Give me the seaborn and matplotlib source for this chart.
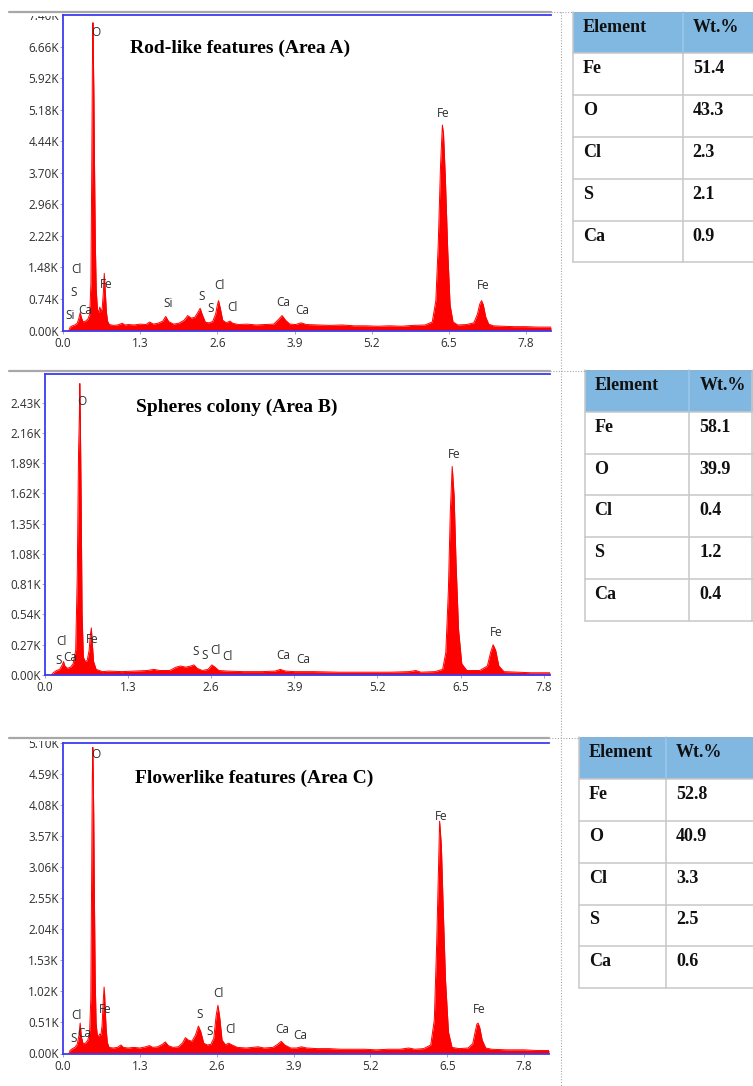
import numpy as np
import pandas as pd
import matplotlib
matplotlib.use("Agg")
import matplotlib.pyplot as plt
import seaborn as sns
from matplotlib.patches import Rectangle
from matplotlib.lines import Line2D

# ---------------- data ----------------
xticks = [0.0, 1.3, 2.6, 3.9, 5.2, 6.5, 7.8]

title_a = "Rod-like features (Area A)"
title_b = "Spheres colony (Area B)"
title_c = "Flowerlike features (Area C)"

yticks_a = [0.00, 0.74, 1.48, 2.22, 2.96, 3.70, 4.44, 5.18, 5.92, 6.66, 7.40]
yticks_b = [0.00, 0.27, 0.54, 0.81, 1.08, 1.35, 1.62, 1.89, 2.16, 2.43]
yticks_c = [0.00, 0.51, 1.02, 1.53, 2.04, 2.55, 3.06, 3.57, 4.08, 4.59, 5.10]

energy_a = [0.10, 0.12, 0.16, 0.20, 0.24, 0.27, 0.29, 0.31, 0.34, 0.38, 0.42, 0.45, 0.47,
            0.485, 0.495, 0.50, 0.505, 0.51, 0.52, 0.53, 0.545, 0.56, 0.58, 0.60, 0.62,
            0.64, 0.66, 0.68, 0.695, 0.705, 0.715, 0.73, 0.75, 0.78, 0.85, 0.92, 1.00,
            1.04, 1.10, 1.20, 1.30, 1.40, 1.46, 1.52, 1.60, 1.68, 1.73, 1.78, 1.86, 1.95,
            2.04, 2.10, 2.16, 2.22, 2.27, 2.31, 2.35, 2.40, 2.46, 2.52, 2.57, 2.60, 2.62,
            2.65, 2.69, 2.75, 2.81, 2.86, 2.95, 3.10, 3.25, 3.40, 3.55, 3.63, 3.69, 3.75,
            3.82, 3.92, 4.01, 4.10, 4.30, 4.50, 4.70, 4.90, 5.10, 5.30, 5.50, 5.70, 5.90,
            6.10, 6.22, 6.28, 6.32, 6.36, 6.39, 6.41, 6.44, 6.48, 6.52, 6.57, 6.65, 6.80,
            6.92, 6.98, 7.02, 7.05, 7.08, 7.12, 7.17, 7.25, 7.40, 7.60, 7.80, 8.00, 8.22]
counts_a = [0.00, 0.08, 0.11, 0.13, 0.17, 0.30, 0.42, 0.30, 0.20, 0.22, 0.27, 0.38, 1.10,
            4.00, 6.20, 6.70, 7.22, 6.60, 5.60, 4.00, 2.00, 0.95, 0.50, 0.42, 0.55,
            0.44, 0.52, 0.90, 1.34, 1.10, 0.85, 0.45, 0.22, 0.14, 0.12, 0.13, 0.17,
            0.13, 0.14, 0.13, 0.15, 0.14, 0.20, 0.15, 0.17, 0.22, 0.33, 0.21, 0.15, 0.17,
            0.24, 0.35, 0.29, 0.31, 0.42, 0.52, 0.36, 0.19, 0.18, 0.21, 0.38, 0.60, 0.70,
            0.52, 0.24, 0.18, 0.22, 0.17, 0.14, 0.15, 0.13, 0.14, 0.15, 0.26, 0.35, 0.24,
            0.15, 0.14, 0.18, 0.14, 0.13, 0.12, 0.13, 0.11, 0.11, 0.10, 0.11, 0.10, 0.12,
            0.13, 0.20, 0.70, 2.00, 3.90, 4.82, 4.60, 3.60, 1.90, 0.60, 0.20, 0.13, 0.14,
            0.18, 0.38, 0.62, 0.70, 0.60, 0.32, 0.15, 0.11, 0.10, 0.09, 0.09, 0.08, 0.08]

energy_b = [0.10, 0.13, 0.18, 0.23, 0.27, 0.29, 0.31, 0.35, 0.40, 0.44, 0.48, 0.505, 0.525,
            0.538, 0.545, 0.552, 0.565, 0.58, 0.60, 0.63, 0.66, 0.69, 0.71, 0.725, 0.74,
            0.76, 0.80, 0.90, 1.00, 1.20, 1.40, 1.60, 1.70, 1.80, 1.95, 2.05, 2.12, 2.20,
            2.28, 2.33, 2.38, 2.46, 2.55, 2.61, 2.66, 2.72, 2.85, 3.10, 3.40, 3.60, 3.68,
            3.76, 3.90, 4.20, 4.60, 5.00, 5.40, 5.70, 5.80, 5.88, 6.10, 6.22, 6.27, 6.31,
            6.34, 6.37, 6.40, 6.43, 6.47, 6.52, 6.60, 6.80, 6.92, 6.97, 7.01, 7.05, 7.10,
            7.18, 7.40, 7.60, 7.90]
counts_b = [0.00, 0.02, 0.04, 0.05, 0.09, 0.12, 0.08, 0.06, 0.07, 0.10, 0.22, 0.90, 2.00,
            2.32, 2.60, 2.32, 1.60, 0.55, 0.16, 0.12, 0.13, 0.22, 0.36, 0.42, 0.28,
            0.12, 0.05, 0.03, 0.035, 0.03, 0.035, 0.04, 0.05, 0.04, 0.04, 0.07, 0.08, 0.07,
            0.08, 0.09, 0.06, 0.04, 0.05, 0.09, 0.07, 0.04, 0.035, 0.03, 0.03, 0.035, 0.05,
            0.035, 0.03, 0.03, 0.025, 0.025, 0.025, 0.03, 0.04, 0.025, 0.03, 0.05, 0.20, 0.75,
            1.45, 1.86, 1.60, 1.00, 0.40, 0.10, 0.04, 0.04, 0.08, 0.20, 0.27, 0.22, 0.08,
            0.03, 0.025, 0.02, 0.02]

energy_c = [0.10, 0.12, 0.16, 0.20, 0.24, 0.27, 0.29, 0.31, 0.34, 0.38, 0.42, 0.45, 0.47,
            0.485, 0.495, 0.50, 0.505, 0.51, 0.52, 0.53, 0.545, 0.56, 0.58, 0.60, 0.62,
            0.64, 0.66, 0.68, 0.695, 0.705, 0.715, 0.73, 0.75, 0.78, 0.85, 0.92, 0.98,
            1.02, 1.10, 1.20, 1.30, 1.40, 1.46, 1.52, 1.60, 1.68, 1.73, 1.78, 1.86, 1.95,
            2.02, 2.07, 2.12, 2.18, 2.24, 2.29, 2.33, 2.38, 2.44, 2.50, 2.55, 2.59, 2.62,
            2.65, 2.69, 2.75, 2.80, 2.86, 2.95, 3.10, 3.30, 3.40, 3.55, 3.63, 3.69, 3.75,
            3.85, 3.95, 4.03, 4.12, 4.30, 4.50, 4.70, 4.90, 5.10, 5.30, 5.50, 5.70, 5.85,
            5.95, 6.10, 6.22, 6.28, 6.32, 6.35, 6.37, 6.40, 6.43, 6.47, 6.52, 6.58, 6.70,
            6.85, 6.93, 6.97, 7.00, 7.02, 7.05, 7.09, 7.15, 7.25, 7.50, 7.80, 8.00, 8.22]
counts_c = [0.00, 0.05, 0.08, 0.10, 0.15, 0.30, 0.50, 0.28, 0.16, 0.17, 0.22, 0.35, 0.90,
            3.00, 4.50, 4.78, 5.02, 4.70, 3.90, 2.70, 1.20, 0.50, 0.30, 0.28, 0.32,
            0.30, 0.45, 0.85, 1.09, 0.95, 0.70, 0.40, 0.18, 0.10, 0.09, 0.10, 0.14,
            0.10, 0.09, 0.10, 0.09, 0.11, 0.13, 0.10, 0.11, 0.15, 0.19, 0.13, 0.10, 0.11,
            0.17, 0.26, 0.22, 0.20, 0.30, 0.45, 0.36, 0.17, 0.14, 0.15, 0.25, 0.62, 0.79,
            0.60, 0.22, 0.14, 0.17, 0.14, 0.10, 0.09, 0.11, 0.09, 0.10, 0.15, 0.20, 0.14,
            0.09, 0.09, 0.11, 0.09, 0.08, 0.08, 0.07, 0.07, 0.07, 0.06, 0.07, 0.07, 0.09,
            0.07, 0.08, 0.14, 0.55, 1.80, 3.00, 3.81, 3.40, 2.40, 1.20, 0.35, 0.10, 0.08,
            0.09, 0.16, 0.35, 0.48, 0.50, 0.42, 0.22, 0.09, 0.07, 0.06, 0.06, 0.05, 0.05]

# peak labels: (element, energy keV, counts K)
labels_a = [("O", 0.556, 6.98), ("Cl", 0.219, 1.44), ("S", 0.185, 0.90), ("Si", 0.123, 0.36),
            ("Ca", 0.370, 0.47), ("Fe", 0.724, 1.07), ("Si", 1.773, 0.64), ("S", 2.335, 0.80),
            ("S", 2.492, 0.51), ("Cl", 2.643, 1.05), ("Cl", 2.850, 0.55), ("Ca", 3.709, 0.66),
            ("Ca", 4.029, 0.46), ("Fe", 6.41, 5.10), ("Fe", 7.07, 1.05)]
labels_b = [("O", 0.574, 2.44), ("Cl", 0.250, 0.303), ("S", 0.208, 0.125), ("Ca", 0.391, 0.158),
            ("Fe", 0.741, 0.318), ("S", 2.358, 0.208), ("S", 2.504, 0.178), ("Cl", 2.660, 0.223),
            ("Cl", 2.859, 0.169), ("Ca", 3.720, 0.178), ("Ca", 4.033, 0.134), ("Fe", 6.405, 1.971),
            ("Fe", 7.058, 0.377)]
labels_c = [("O", 0.553, 4.91), ("Cl", 0.220, 0.617), ("S", 0.186, 0.25), ("Ca", 0.360, 0.32),
            ("Fe", 0.716, 0.727), ("S", 2.318, 0.633), ("S", 2.475, 0.359), ("Cl", 2.628, 0.99),
            ("Cl", 2.826, 0.387), ("Ca", 3.70, 0.387), ("Ca", 4.02, 0.30), ("Fe", 6.40, 3.89),
            ("Fe", 7.04, 0.727)]

table_header = ["Element", "Wt.%"]
elements = ["Fe", "O", "Cl", "S", "Ca"]
wt_a = ["51.4", "43.3", "2.3", "2.1", "0.9"]
wt_b = ["58.1", "39.9", "0.4", "1.2", "0.4"]
wt_c = ["52.8", "40.9", "3.3", "2.5", "0.6"]

# ---------------- style ----------------
sns.set_theme(style="white")
plt.rcParams["font.family"] = ["Open Sans", "DejaVu Sans"]

W, H = 753, 1086
fig = plt.figure(figsize=(W / 100, H / 100), dpi=100)
fig.patch.set_facecolor("white")


def add_px_axes(left, top, right, bottom):
    return fig.add_axes([left / W, 1 - bottom / H, (right - left) / W, (bottom - top) / H])


SPINE = "#3c3cf2"
RED = "#ff0000"
TXT = "#2e2e2e"

panels = [
    dict(e=energy_a, c=counts_a, lab=labels_a, yt=yticks_a, title=title_a,
         box=(63, 15, 551, 330.5), xmax=8.22, ymax=7.40, txy=(240, 52.7)),
    dict(e=energy_b, c=counts_b, lab=labels_b, yt=yticks_b, title=title_b,
         box=(45, 374, 550, 675), xmax=7.90, ymax=2.685, txy=(236.7, 411.7)),
    dict(e=energy_c, c=counts_c, lab=labels_c, yt=yticks_c, title=title_c,
         box=(63, 742.5, 549, 1053.5), xmax=8.22, ymax=5.10, txy=(254.5, 783.3)),
]

for p in panels:
    ax = add_px_axes(*p["box"])
    df = pd.DataFrame({"energy": p["e"], "counts": p["c"]})
    ax.fill_between(df["energy"], 0, df["counts"], color=RED, linewidth=0, zorder=2)
    sns.lineplot(data=df, x="energy", y="counts", ax=ax, color=RED, linewidth=0.7,
                 sort=False, estimator=None, zorder=3)
    ax.set_xlim(0, p["xmax"])
    ax.set_ylim(0, p["ymax"])
    ax.set_xticks(xticks)
    ax.set_xticklabels([f"{v:.1f}" for v in xticks])
    ax.set_yticks(p["yt"])
    ax.set_yticklabels([f"{v:.2f}K" for v in p["yt"]])
    ax.set_xlabel("")
    ax.set_ylabel("")
    ax.grid(False)
    for s in ["left", "top", "bottom"]:
        ax.spines[s].set_color(SPINE)
        ax.spines[s].set_linewidth(1.3)
        ax.spines[s].set_visible(True)
    ax.spines["right"].set_visible(False)
    ax.tick_params(axis="both", which="major", bottom=True, left=True, length=2,
                   width=0.6, color="#999999", labelsize=8.5, labelcolor=TXT)
    ax.tick_params(axis="y", pad=1)
    ax.tick_params(axis="x", pad=2.5)
    for (t, x, y) in p["lab"]:
        ax.text(x, y, t, ha="center", va="center", fontsize=8.5, color=TXT, zorder=4)
    tx, ty = p["txy"]
    fig.text(tx / W, 1 - ty / H, p["title"], ha="center", va="baseline",
             family="Liberation Serif", weight="bold", fontsize=14, color="black")

# white cover for the clipped top tick labels (page crop)
fig.add_artist(Rectangle((0, 1 - 15.5 / H), 61.5 / W, 15.5 / H, transform=fig.transFigure,
                         facecolor="white", edgecolor="none", zorder=5))
fig.add_artist(Rectangle((0, 1 - 741 / H), 61.5 / W, 41 / H, transform=fig.transFigure,
                         facecolor="white", edgecolor="none", zorder=5))

# document frame lines
GRAY = "#a8a8a8"
for (y, x1) in [(12, 551), (371, 550), (737.5, 549)]:
    fig.add_artist(Line2D([9 / W, x1 / W], [1 - y / H, 1 - y / H], transform=fig.transFigure,
                          color=GRAY, linewidth=1.6, zorder=6))
    fig.add_artist(Line2D([x1 / W, 1], [1 - y / H, 1 - y / H], transform=fig.transFigure,
                          color=GRAY, linewidth=0.8, linestyle=(0, (1, 1.5)), zorder=6))
fig.add_artist(Line2D([560.7 / W, 560.7 / W], [1 - 12 / H, 0], transform=fig.transFigure,
                      color=GRAY, linewidth=0.8, linestyle=(0, (1, 1.5)), zorder=6))

# ---------------- tables ----------------
RH = 41.8
tables = [
    dict(left=573.3, top=11.7, sep=682.7, vals=wt_a, rborder=False),
    dict(left=585.0, top=370.0, sep=689.3, vals=wt_b, rborder=True),
    dict(left=579.3, top=737.3, sep=666.0, vals=wt_c, rborder=False),
]
GRID = "#c8c8c8"
HEAD = "#80b8e2"
for t in tables:
    L, T, S = t["left"], t["top"], t["sep"]
    R = W
    B = T + 6 * RH
    tax = add_px_axes(L - 2, T - 2, R, B + 2)
    tax.set_xlim(L - 2, R)
    tax.set_ylim(B + 2, T - 2)
    tax.axis("off")
    tax.add_patch(Rectangle((L, T), R - L, RH, facecolor=HEAD, edgecolor="none", zorder=1))
    for i in range(1, 7):
        tax.plot([L, R], [T + i * RH, T + i * RH], color=GRID, linewidth=1.1, zorder=2)
    tax.plot([L, L], [T, B], color=GRID, linewidth=1.1, zorder=2)
    tax.plot([S, S], [T + RH, B], color=GRID, linewidth=1.1, zorder=2)
    tax.plot([S, S], [T, T + RH], color="#9cc8ea", linewidth=1.1, zorder=2)
    if t["rborder"]:
        tax.plot([R - 0.8, R - 0.8], [T, B], color=GRID, linewidth=1.1, zorder=2)
    rows = [table_header] + [[el, v] for el, v in zip(elements, t["vals"])]
    for i, (c1, c2) in enumerate(rows):
        yb = T + i * RH + 20
        tax.text(L + 9.5, yb, c1, ha="left", va="baseline", family="Liberation Serif",
                 weight="bold", fontsize=13, color="#111111", zorder=3)
        tax.text(S + 10, yb, c2, ha="left", va="baseline", family="Liberation Serif",
                 weight="bold", fontsize=13, color="#111111", zorder=3)

fig.savefig("out.png", dpi=100, facecolor="white")
